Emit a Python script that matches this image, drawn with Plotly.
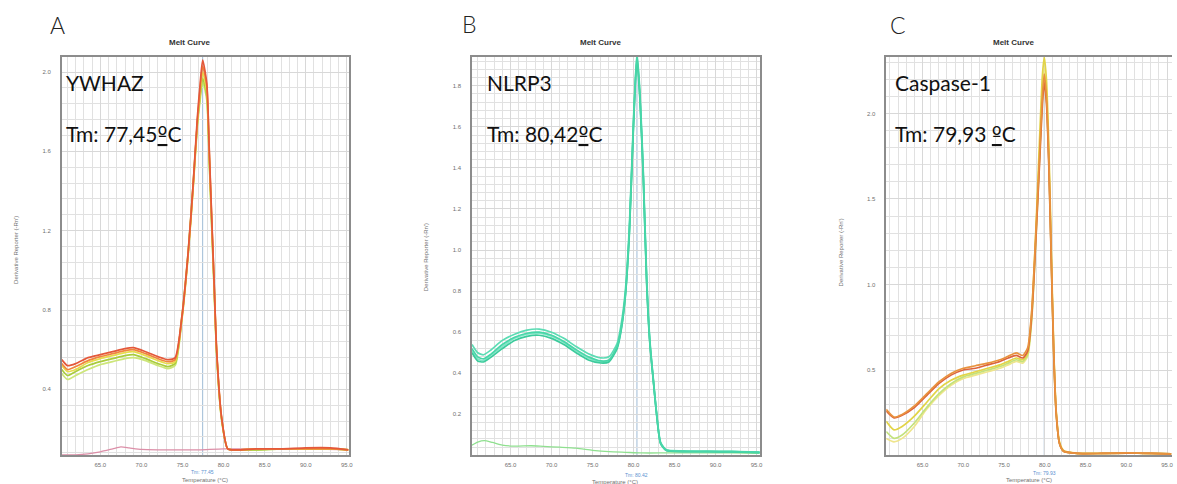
import plotly.graph_objects as go

# ---------------- data ----------------
TM = [77.45, 80.42, 79.93]
TM_TEXT = ["Tm: 77.45", "Tm: 80.42", "Tm: 79.93"]
GENES = ["YWHAZ", "NLRP3", "Caspase-1"]
GENE_TM = ["Tm: 77,45\u00baC", "Tm: 80,42\u00baC", "Tm: 79,93 \u00baC"]
PANEL_LETTERS = ["A", "B", "C"]

# Panel A (YWHAZ)
A_T = [60.3, 61.0, 62.0, 63.5, 65.0, 66.5, 68.0, 69.0, 70.5, 72.0, 73.2, 74.1, 74.9, 75.7, 76.3,
       76.8, 77.15, 77.45, 77.95, 78.25, 78.55, 78.85, 79.15, 79.75, 80.5, 81.5, 84.0, 87.0, 90.0, 93.0, 95.2]
A_red = [0.55, 0.52, 0.53, 0.56, 0.575, 0.59, 0.605, 0.61, 0.59, 0.565, 0.55, 0.56, 0.76, 1.10, 1.44,
         1.77, 1.945, 2.06, 1.945, 1.615, 1.27, 0.935, 0.60, 0.26, 0.10, 0.095, 0.10, 0.10, 0.105, 0.105, 0.095]
A_orange = [0.53, 0.50, 0.515, 0.545, 0.565, 0.58, 0.595, 0.60, 0.58, 0.555, 0.54, 0.55, 0.75, 1.09, 1.43,
            1.75, 1.92, 2.03, 1.93, 1.60, 1.26, 0.93, 0.60, 0.26, 0.10, 0.095, 0.10, 0.10, 0.10, 0.10, 0.095]
A_ygreen = [0.50, 0.47, 0.49, 0.52, 0.54, 0.555, 0.57, 0.575, 0.555, 0.53, 0.515, 0.53, 0.76, 1.10, 1.44,
            1.74, 1.88, 1.97, 1.88, 1.56, 1.23, 0.91, 0.58, 0.25, 0.10, 0.095, 0.095, 0.10, 0.10, 0.10, 0.095]
A_yellow = [0.52, 0.49, 0.50, 0.535, 0.555, 0.57, 0.585, 0.59, 0.57, 0.545, 0.53, 0.54, 0.75, 1.09, 1.42,
            1.74, 1.90, 2.00, 1.90, 1.58, 1.25, 0.92, 0.59, 0.255, 0.10, 0.095, 0.10, 0.10, 0.10, 0.10, 0.095]
A_lgreen = [0.48, 0.45, 0.47, 0.50, 0.525, 0.54, 0.555, 0.56, 0.545, 0.52, 0.505, 0.52, 0.74, 1.08, 1.42,
            1.72, 1.86, 1.95, 1.86, 1.55, 1.22, 0.90, 0.58, 0.25, 0.10, 0.095, 0.095, 0.10, 0.10, 0.10, 0.095]
A_pink_T = [60.3, 62.0, 63.5, 65.0, 66.5, 67.5, 68.5, 70.0, 72.0, 75.0, 77.0, 80.0, 85.0, 90.0, 95.2]
A_pink = [0.07, 0.07, 0.075, 0.085, 0.10, 0.11, 0.105, 0.097, 0.095, 0.095, 0.095, 0.10, 0.10, 0.10, 0.095]

# Panel B (NLRP3)
B_T = [60.3, 61.0, 61.7, 62.5, 64.0, 65.5, 67.0, 68.5, 70.0, 71.5, 73.0, 74.5, 76.0, 77.0, 78.0, 78.5,
       79.0, 79.5, 80.0, 80.42, 80.8, 81.2, 81.6, 82.0, 82.4, 82.8, 83.3, 84.0, 86.0, 89.0, 92.0, 95.4]
B_1 = [0.52, 0.48, 0.47, 0.49, 0.54, 0.575, 0.595, 0.60, 0.585, 0.555, 0.515, 0.48, 0.46, 0.465, 0.53, 0.62,
       0.78, 1.10, 1.62, 1.95, 1.74, 1.36, 0.86, 0.55, 0.375, 0.21, 0.06, 0.025, 0.02, 0.02, 0.018, 0.015]
B_2 = [0.54, 0.50, 0.49, 0.51, 0.56, 0.59, 0.61, 0.615, 0.60, 0.57, 0.53, 0.495, 0.475, 0.48, 0.545, 0.64,
       0.80, 1.12, 1.64, 1.96, 1.76, 1.38, 0.88, 0.56, 0.38, 0.215, 0.065, 0.027, 0.022, 0.02, 0.02, 0.016]
B_3 = [0.50, 0.46, 0.455, 0.475, 0.52, 0.56, 0.58, 0.585, 0.57, 0.54, 0.50, 0.465, 0.45, 0.455, 0.52, 0.61,
       0.77, 1.08, 1.60, 1.93, 1.72, 1.34, 0.84, 0.54, 0.37, 0.205, 0.058, 0.024, 0.018, 0.018, 0.017, 0.014]
B_4 = [0.51, 0.47, 0.46, 0.485, 0.53, 0.57, 0.59, 0.595, 0.58, 0.55, 0.51, 0.475, 0.455, 0.46, 0.525, 0.615,
       0.775, 1.09, 1.61, 1.94, 1.73, 1.35, 0.85, 0.545, 0.372, 0.208, 0.06, 0.025, 0.02, 0.019, 0.018, 0.015]
B_low_T = [60.3, 61.0, 61.8, 62.8, 64.0, 65.5, 67.5, 69.0, 71.0, 73.0, 75.0, 77.0, 79.0, 81.0, 84.0, 88.0, 92.0, 95.4]
B_low = [0.05, 0.065, 0.072, 0.063, 0.05, 0.045, 0.047, 0.044, 0.04, 0.035, 0.025, 0.018, 0.015, 0.012,
         0.012, 0.012, 0.012, 0.01]

# Panel C (Caspase-1)
C_T = [60.55, 61.5, 62.5, 64.0, 65.5, 67.0, 68.5, 70.0, 71.5, 73.0, 74.5, 75.5, 76.5, 77.3, 77.9, 78.4,
       78.9, 79.4, 79.7, 79.93, 80.2, 80.5, 80.8, 81.1, 81.4, 81.8, 82.3, 84.0, 87.0, 90.0, 93.0, 95.5]
C_orange = [0.27, 0.225, 0.24, 0.29, 0.36, 0.43, 0.48, 0.51, 0.525, 0.54, 0.56, 0.58, 0.60, 0.585, 0.63, 0.85,
            1.30, 1.80, 2.10, 2.23, 2.10, 1.72, 1.15, 0.60, 0.25, 0.07, 0.025, 0.012, 0.012, 0.015, 0.012, 0.01]
C_red = [0.26, 0.22, 0.235, 0.28, 0.35, 0.42, 0.47, 0.50, 0.51, 0.53, 0.55, 0.57, 0.585, 0.57, 0.61, 0.82,
         1.26, 1.75, 2.05, 2.18, 2.06, 1.68, 1.12, 0.58, 0.24, 0.07, 0.025, 0.012, 0.012, 0.014, 0.012, 0.01]
C_yellow = [0.20, 0.15, 0.17, 0.23, 0.31, 0.39, 0.44, 0.47, 0.49, 0.51, 0.53, 0.55, 0.57, 0.56, 0.60, 0.84,
            1.32, 1.90, 2.22, 2.33, 2.20, 1.80, 1.20, 0.62, 0.26, 0.08, 0.03, 0.013, 0.013, 0.015, 0.012, 0.01]
C_lgreen = [0.14, 0.10, 0.12, 0.19, 0.28, 0.36, 0.42, 0.46, 0.48, 0.50, 0.52, 0.54, 0.56, 0.55, 0.59, 0.80,
            1.25, 1.78, 2.08, 2.20, 2.08, 1.70, 1.13, 0.58, 0.24, 0.07, 0.025, 0.012, 0.012, 0.014, 0.012, 0.01]
C_pale = [0.10, 0.08, 0.10, 0.17, 0.27, 0.35, 0.41, 0.45, 0.47, 0.49, 0.51, 0.53, 0.55, 0.54, 0.58, 0.80,
          1.27, 1.82, 2.14, 2.26, 2.13, 1.74, 1.16, 0.60, 0.25, 0.075, 0.025, 0.012, 0.012, 0.014, 0.012, 0.01]

# ---------------- figure ----------------
W, H = 1177, 484
fig = go.Figure()

def px_x(p):
    return p / W

def px_y(p):
    return 1 - p / H

def add_line(x, y, color, axis, width=1.7):
    fig.add_trace(go.Scatter(x=x, y=y, mode="lines", xaxis="x" + axis, yaxis="y" + axis,
                             line=dict(color=color, width=width, shape="spline", smoothing=0.6),
                             hoverinfo="skip", showlegend=False))

# A
add_line(A_pink_T, A_pink, "#dc8fa8", "", 1.3)
add_line(A_T, A_lgreen, "#cde67a", "")
add_line(A_T, A_ygreen, "#a9cc3c", "")
add_line(A_T, A_yellow, "#e6dc4c", "")
add_line(A_T, A_orange, "#f0863c", "")
add_line(A_T, A_red, "#e4583a", "")
# B
add_line(B_low_T, B_low, "#8fe08f", "2", 1.3)
add_line(B_T, B_4, "#7fe6c6", "2")
add_line(B_T, B_2, "#5cdcb4", "2")
add_line(B_T, B_3, "#3ccb9c", "2")
add_line(B_T, B_1, "#48d6a8", "2")
# C
add_line(C_T, C_pale, "#efe58c", "3")
add_line(C_T, C_lgreen, "#c3e27c", "3")
add_line(C_T, C_yellow, "#e2d447", "3")
add_line(C_T, C_red, "#dc633c", "3")
add_line(C_T, C_orange, "#e8923e", "3")

ydom = [px_y(455), px_y(57)]
tickfont = dict(family="Liberation Sans, Arial", size=6, color="#707070")
grid_major = "#d8d8d8"
grid_minor = "#e1e1e1"
frame = "#8c8c8c"

def xax(domain, rng, anchor):
    return dict(domain=domain, range=rng, anchor=anchor, dtick=5, tick0=0, tickformat=".1f",
                showgrid=True, gridcolor=grid_major, gridwidth=1,
                minor=dict(dtick=1, showgrid=True, gridcolor=grid_minor, gridwidth=1),
                showline=True, linecolor=frame, linewidth=1.5, mirror=True,
                ticks="", ticklabelstandoff=3, tickfont=tickfont, zeroline=False, fixedrange=True)

def yax(rng, anchor, dtick, minor, mirror=True):
    return dict(domain=ydom, range=rng, anchor=anchor, dtick=dtick, tick0=0, tickformat=".1f",
                showgrid=True, gridcolor=grid_major, gridwidth=1,
                minor=dict(dtick=minor, showgrid=True, gridcolor=grid_minor, gridwidth=1),
                showline=True, linecolor=frame, linewidth=1.5, mirror=mirror,
                ticks="", ticklabelstandoff=8, tickfont=tickfont, zeroline=False, fixedrange=True)

fig.update_layout(
    width=W, height=H, margin=dict(l=0, r=0, t=0, b=0),
    paper_bgcolor="white", plot_bgcolor="white", showlegend=False,
    xaxis=xax([px_x(62), px_x(350)], [60.3, 95.2], "y"),
    yaxis=yax([0.069, 2.076], "x", 0.4, 0.08),
    xaxis2=xax([px_x(474), px_x(763)], [60.3, 95.4], "y2"),
    yaxis2=yax([0.002, 1.94], "x2", 0.2, 0.04),
    xaxis3=xax([px_x(890), 1.0], [60.55, 95.6], "y3"),
    yaxis3=yax([0.003, 2.33], "x3", 0.5, 0.1, mirror=False),
)

# Tm vertical lines
for i, ax in enumerate(["", "2", "3"]):
    fig.add_shape(type="line", xref="x" + ax, yref="y" + ax + " domain", x0=TM[i], x1=TM[i], y0=0, y1=1,
                  line=dict(color="#9fbcd6", width=1), layer="below")

ann = []
small = dict(family="Liberation Sans, Arial", size=6, color="#707070")
title_x = [190, 603, 1018]
plot_center = [206, 618, 1033]
ytitle_pos = [(16, 250), (428, 257), (845, 252)]
letter_pos = [(58, 25), (472, 24), (902, 25)]
text_left = [64, 487, 897]
tm_row = [472, 475, 473]
ttl_row = [480, 482, 480]
gene_font = dict(family="Lato", size=21, color="#111111")

def tm_text(s):
    return s.replace("\u00ba", "<span style='font-family:DejaVu Sans;text-decoration:underline'>\u00ba</span>")

for i, ax in enumerate(["", "2", "3"]):
    common = dict(xref="paper", yref="paper", showarrow=False, xanchor="center", yanchor="middle")
    ann.append(dict(text="<b>Melt Curve</b>", x=px_x(title_x[i]), y=px_y(43),
                    font=dict(family="Liberation Sans, Arial", size=8, color="#333333"), **common))
    ann.append(dict(text=PANEL_LETTERS[i], x=px_x(letter_pos[i][0]), y=px_y(letter_pos[i][1]),
                    font=dict(family="Lato", size=23, color="#222222", weight=300), **common))
    ann.append(dict(text=GENES[i], x=px_x(text_left[i]), y=px_y(82), xref="paper", yref="paper",
                    xanchor="left", yanchor="middle", showarrow=False, font=gene_font))
    ann.append(dict(text=tm_text(GENE_TM[i]), x=px_x(text_left[i]), y=px_y(134), xref="paper", yref="paper",
                    xanchor="left", yanchor="middle", showarrow=False, font=gene_font))
    ann.append(dict(text=TM_TEXT[i], x=TM[i], y=px_y(tm_row[i]), xref="x" + ax, yref="paper",
                    xanchor="center", yanchor="middle", showarrow=False,
                    font=dict(family="Liberation Sans, Arial", size=5, color="#5b8fd0")))
    ann.append(dict(text="Temperature (\u00b0C)", x=px_x(plot_center[i]), y=px_y(ttl_row[i]),
                    font=small, **common))
    ann.append(dict(text="Derivative Reporter (-Rn')", x=px_x(ytitle_pos[i][0]), y=px_y(ytitle_pos[i][1]),
                    textangle=-90, font=small, **common))
fig.update_layout(annotations=ann)

fig.write_html("out.html")
